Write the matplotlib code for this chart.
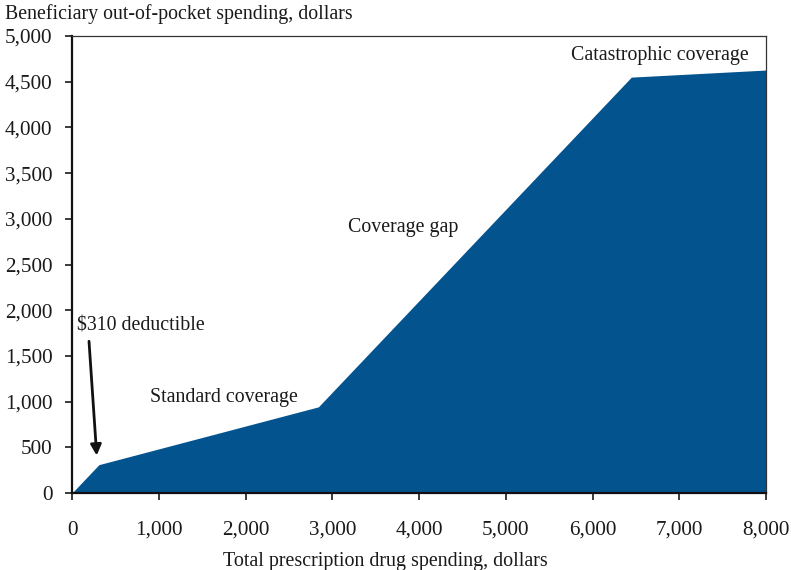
import matplotlib
matplotlib.use("Agg")
import matplotlib.pyplot as plt

plt.rcParams["font.family"] = ["Liberation Serif", "DejaVu Serif"]

# Part D standard benefit: total spending vs beneficiary out-of-pocket
total_spend = [0, 310, 2840, 6447.5, 8000]
oop_spend = [0, 310, 942.5, 4550, 4627.6]

x_ticks = [0, 1000, 2000, 3000, 4000, 5000, 6000, 7000, 8000]
y_ticks = [0, 500, 1000, 1500, 2000, 2500, 3000, 3500, 4000, 4500, 5000]

c_fill = "#03538f"
c_text = "#1a1a1a"
fs = 14.3

fig = plt.figure(figsize=(7.91, 5.70), dpi=100)
ax = fig.add_axes([72 / 791, 77 / 570, 694 / 791, 457 / 570])

ax.fill_between(total_spend, oop_spend, 0, color=c_fill, linewidth=0)

ax.set_xlim(0, 8000)
ax.set_ylim(0, 5000)
ax.set_xticks(x_ticks, [f"{v:,}" for v in x_ticks])
ax.set_yticks(y_ticks, [f"{v:,}" for v in y_ticks])
ax.tick_params(axis="both", direction="out", length=5, width=1.2,
               labelsize=15.2, colors=c_text)
ax.tick_params(axis="x", pad=15)
ax.tick_params(axis="y", pad=9)

for side in ("left", "bottom"):
    ax.spines[side].set_linewidth(1.6)
    ax.spines[side].set_color("#111111")
for side in ("top", "right"):
    ax.spines[side].set_linewidth(0.9)
    ax.spines[side].set_color("#333333")

fig.text(5 / 791, 1 - 14 / 570, "Beneficiary out-of-pocket spending, dollars",
         fontsize=fs, color=c_text, va="center", ha="left")
ax.set_xlabel("Total prescription drug spending, dollars", fontsize=14.4,
              color=c_text)
ax.xaxis.set_label_coords(0.451, -0.130)

ax.text(60, 1830, "$310 deductible", fontsize=fs, color=c_text,
        ha="left", va="center")
ax.annotate("", xy=(285, 410), xytext=(196, 1660),
            arrowprops=dict(arrowstyle="-|>", color="#111111", lw=2,
                            mutation_scale=16, shrinkA=0, shrinkB=0))
ax.text(1752, 1050, "Standard coverage", fontsize=fs, color=c_text,
        ha="center", va="center")
ax.text(3816, 2900, "Coverage gap", fontsize=fs, color=c_text,
        ha="center", va="center")
ax.text(6778, 4792, "Catastrophic coverage", fontsize=fs, color=c_text,
        ha="center", va="center")

fig.savefig("out.png", dpi=100)
